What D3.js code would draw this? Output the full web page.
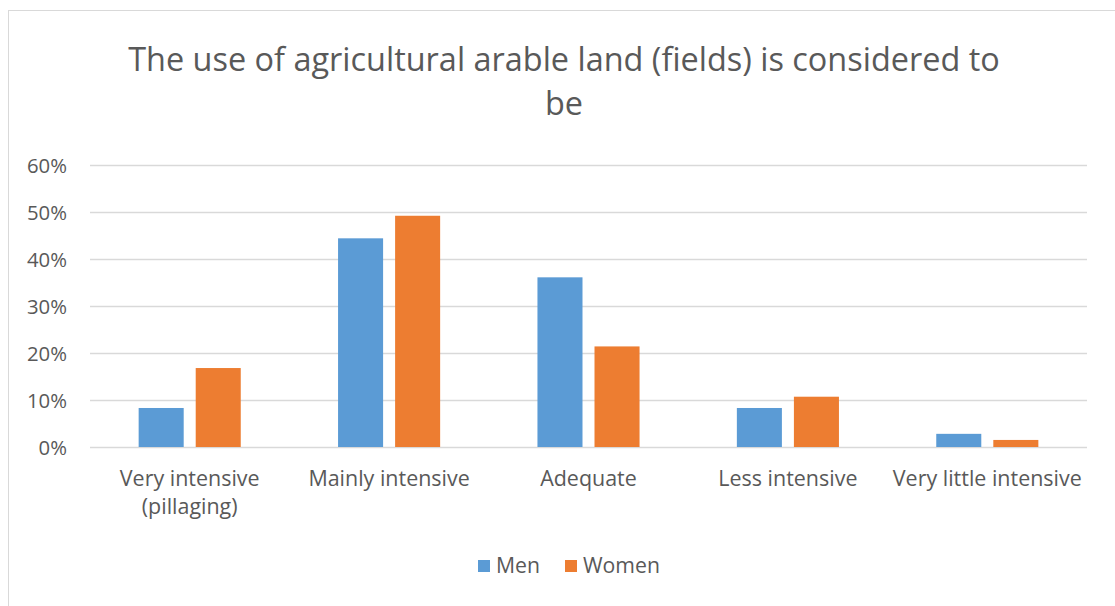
<!DOCTYPE html>
<html>
<head>
<meta charset="utf-8">
<script src="https://cdn.jsdelivr.net/npm/d3@7"></script>
<style>
  html, body { margin: 0; padding: 0; background: #fff; }
  svg { display: block; }
  text { font-family: "Open Sans", "Noto Sans", sans-serif; fill: #595959; }
</style>
</head>
<body>
<svg id="chart" width="1115" height="606"></svg>
<script>
// ---- Data ----
const categories = ["Very intensive (pillaging)", "Mainly intensive", "Adequate", "Less intensive", "Very little intensive"];
const categoryLines = [["Very intensive", "(pillaging)"], ["Mainly intensive"], ["Adequate"], ["Less intensive"], ["Very little intensive"]];
const seriesNames = ["Men", "Women"];
const menValues = [0.083, 0.444, 0.361, 0.083, 0.028];
const womenValues = [0.168, 0.492, 0.214, 0.107, 0.015];
const yTicks = [0, 0.1, 0.2, 0.3, 0.4, 0.5, 0.6];
const titleLines = ["The use of agricultural arable land (fields) is considered to", "be"];
const colors = ["#5B9BD5", "#ED7D31"];

const seriesValues = [menValues, womenValues];

const svg = d3.select("#chart");

// chart border
svg.append("rect")
  .attr("x", 8.5).attr("y", 10.5)
  .attr("width", 1115).attr("height", 620)
  .attr("fill", "#fff").attr("stroke", "#D9D9D9").attr("stroke-width", 1);

// helper: fit font size so a reference string has target width
function fitSize(text, target, base) {
  const t = svg.append("text").attr("font-size", base).text(text);
  const w = t.node().getComputedTextLength();
  t.remove();
  return base * target / w;
}

const plot = { left: 90, right: 1087, top: 165, bottom: 447 };

const x0 = d3.scaleBand().domain(categories)
  .range([plot.left, plot.right]).paddingInner(0.488).paddingOuter(0.244);
const x1 = d3.scaleBand().domain(seriesNames)
  .range([0, x0.bandwidth()]).paddingInner(12 / 57).paddingOuter(0);
const y = d3.scaleLinear().domain([0, 0.6]).range([plot.bottom, plot.top]);

// gridlines
svg.append("g")
  .selectAll("line").data(yTicks).join("line")
  .attr("x1", plot.left).attr("x2", plot.right)
  .attr("y1", d => Math.round(y(d)) + 0.5).attr("y2", d => Math.round(y(d)) + 0.5)
  .attr("stroke", "#D9D9D9").attr("stroke-width", 1.5);

// y axis labels
const tickSize = fitSize("60%", 40, 20);
const yAxis = d3.axisLeft(y).tickValues(yTicks).tickFormat(d3.format(".0%")).tickSize(0).tickPadding(0);
const yG = svg.append("g").attr("transform", `translate(67,0)`).call(yAxis);
yG.select(".domain").remove();
yG.selectAll("text").attr("font-size", tickSize).attr("fill", "#595959")
  .attr("font-family", '"Open Sans", sans-serif').attr("dy", "0.35em");

// bars
const groups = svg.append("g").selectAll("g").data(categories).join("g")
  .attr("transform", d => `translate(${x0(d)},0)`);
groups.selectAll("rect")
  .data((d, i) => seriesNames.map((s, j) => ({ s, v: seriesValues[j][i], j })))
  .join("rect")
  .attr("x", d => x1(d.s))
  .attr("width", x1.bandwidth())
  .attr("y", d => y(d.v))
  .attr("height", d => y(0) - y(d.v))
  .attr("fill", d => colors[d.j]);

// category labels
const catSize = fitSize("Very little intensive", 189, 20);
const xAxis = svg.append("g");
categories.forEach((c, i) => {
  const t = xAxis.append("text")
    .attr("text-anchor", "middle")
    .attr("font-size", catSize)
    .attr("x", x0(c) + x0.bandwidth() / 2)
    .attr("y", 486);
  categoryLines[i].forEach((ln, k) => {
    t.append("tspan").attr("x", x0(c) + x0.bandwidth() / 2)
      .attr("dy", k === 0 ? 0 : 28).text(ln);
  });
});

// title
const titleSize = fitSize(titleLines[0], 872, 30);
titleLines.forEach((ln, k) => {
  svg.append("text").attr("text-anchor", "middle")
    .attr("x", 564).attr("y", 71 + k * 44)
    .attr("font-size", titleSize).text(ln);
});

// legend
const legSize = fitSize("Women", 77, 20);
const legend = svg.append("g");
const legX = [478, 565];
seriesNames.forEach((s, j) => {
  legend.append("rect").attr("x", legX[j]).attr("y", 560).attr("width", 12).attr("height", 12)
    .attr("fill", colors[j]);
  legend.append("text").attr("x", legX[j] + 18).attr("y", 573)
    .attr("font-size", legSize).text(s);
});
</script>
</body>
</html>
